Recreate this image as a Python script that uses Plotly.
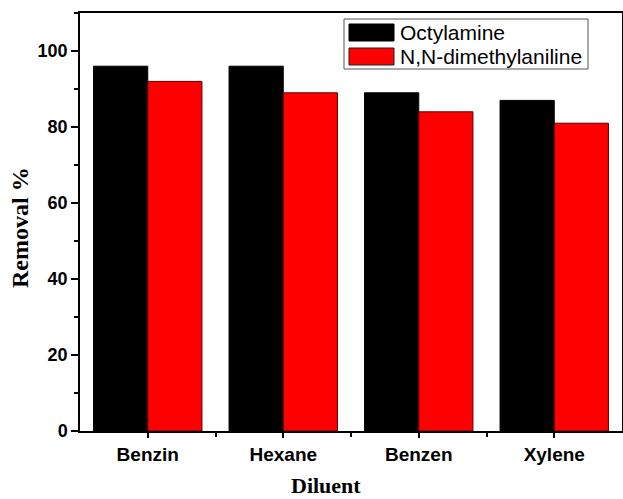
import plotly.graph_objects as go

# Removal efficiency (%) for each diluent and extractant
categories = ["Benzin", "Hexane", "Benzen", "Xylene"]
series_names = ["Octylamine", "N,N-dimethylaniline"]
octylamine = [96, 96, 89, 87]
dimethylaniline = [92, 89, 84, 81]
y_ticks = [0, 20, 40, 60, 80, 100]

positions = list(range(len(categories)))
fill_colors = ["#000000", "#ff0000"]
edge_colors = ["#000000", "#5a0000"]

fig = go.Figure()
for name, vals, fc, ec in zip(series_names, [octylamine, dimethylaniline], fill_colors, edge_colors):
    fig.add_trace(go.Bar(
        x=positions, y=vals, name=name,
        marker=dict(color=fc, line=dict(color=ec, width=1)),
        showlegend=False,
    ))

W, H = 623, 499
ml, mr, mt, mb = 80, 1, 13, 68
pw, ph = W - ml - mr, H - mt - mb

def px_x(p):
    return (p - ml) / pw

def px_y(p):
    return (H - mb - p) / ph

# Boxed legend drawn in paper coordinates
shapes = [dict(type="rect", xref="paper", yref="paper",
               x0=px_x(344), x1=px_x(588), y0=px_y(69), y1=px_y(19),
               line=dict(color="#555555", width=1), fillcolor="white")]
annotations = []
for i, (name, fc, ec) in enumerate(zip(series_names, fill_colors, edge_colors)):
    top = 24 + i * 24
    shapes.append(dict(type="rect", xref="paper", yref="paper",
                       x0=px_x(349), x1=px_x(394), y0=px_y(top + 17), y1=px_y(top),
                       line=dict(color="#000000" if i == 0 else "#222222", width=1),
                       fillcolor=fc))
    annotations.append(dict(xref="paper", yref="paper", x=px_x(398), y=px_y(top + 8.5),
                            text=name, showarrow=False, xanchor="left", yanchor="middle",
                            font=dict(family="Liberation Sans, Arial", size=21, color="black")))

# Axis titles
title_font = dict(family="Liberation Serif, Times New Roman", color="black", weight="bold")
annotations.append(dict(xref="paper", yref="paper", x=px_x(326), y=px_y(485),
                        text="Diluent", showarrow=False, xanchor="center", yanchor="middle",
                        font=dict(size=22, **title_font)))
annotations.append(dict(xref="paper", yref="paper", x=px_x(20), y=px_y(228),
                        text="Removal %", showarrow=False, textangle=-90,
                        xanchor="center", yanchor="middle",
                        font=dict(size=24, **title_font)))

fig.update_layout(
    width=W, height=H,
    margin=dict(l=ml, r=mr, t=mt, b=mb),
    paper_bgcolor="white", plot_bgcolor="white",
    barmode="group", bargap=0.2, bargroupgap=0,
    shapes=shapes, annotations=annotations,
    font=dict(family="Liberation Sans, Arial", color="black"),
)

fig.update_xaxes(
    range=[-0.5, len(categories) - 0.5],
    tickvals=positions, ticktext=categories,
    tickfont=dict(family="Liberation Sans, Arial", size=19, color="black", weight="bold"),
    ticks="outside", ticklen=5, tickwidth=1.5, tickcolor="black",
    minor=dict(tickvals=[p + 0.5 for p in positions[:-1]], ticks="outside",
               ticklen=4, tickwidth=1.5, tickcolor="black"),
    showline=True, linecolor="black", linewidth=1.5, mirror=True,
    showgrid=False, zeroline=False, automargin=False,
)

fig.update_yaxes(
    range=[0, 110],
    tickvals=y_ticks,
    tickfont=dict(family="Liberation Sans, Arial", size=18, color="black", weight="bold"),
    ticks="outside", ticklen=7, tickwidth=1.5, tickcolor="black",
    minor=dict(dtick=10, tick0=0, ticks="outside", ticklen=4, tickwidth=1.5, tickcolor="black"),
    showline=True, linecolor="black", linewidth=1.5, mirror=True,
    showgrid=False, zeroline=False, automargin=False,
)

fig.write_html("out.html")
